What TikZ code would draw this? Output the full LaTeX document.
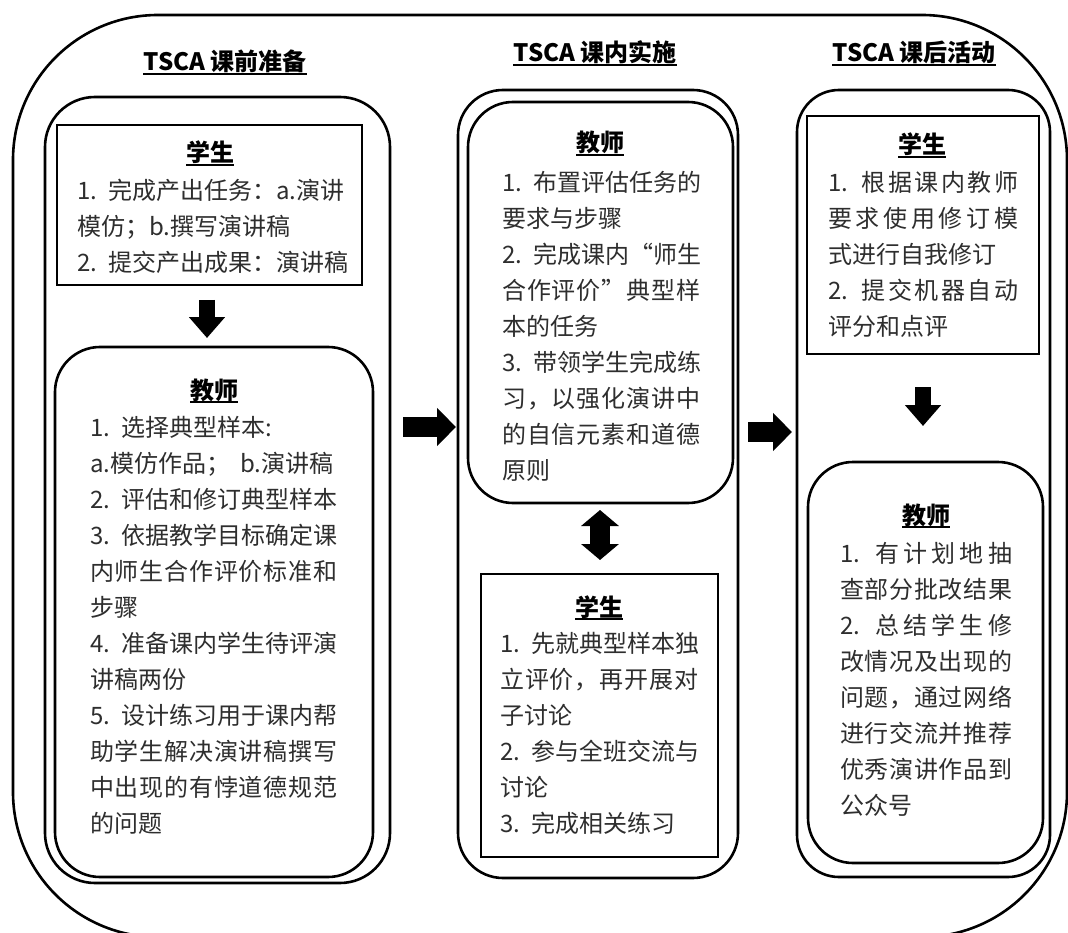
\documentclass[tikz,border=0pt]{standalone}
\usepackage{fontspec}
\setmainfont{Noto Sans CJK SC}
\usetikzlibrary{arrows.meta}
\makeatletter
\newcommand\jl[1]{\leavevmode\hbox to \linewidth{\@tfor\jt:=#1\do{\jt\hfil}\unskip}}
\makeatother
\newcommand\num[1]{#1.\hspace{11pt}}
\newcommand\fl{\rule{0pt}{25pt}}
\newcommand\ulx[1]{\setbox0\hbox{#1}\rlap{\rule[-4pt]{\wd0}{1.8pt}}\box0}
\tikzset{
  colbox/.style={draw, line width=2.6pt, rounded corners=#1, inner sep=0pt, outer sep=0pt},
  sqbox/.style={draw, line width=2.8pt, inner sep=0pt, outer sep=0pt},
  body/.style={anchor=north west, inner sep=0pt, text width=#1, align=left, text=black!82, font=\fontsize{24}{36}\selectfont},
  hdr/.style={anchor=base, inner sep=0pt, font=\fontsize{24}{30}\selectfont\bfseries},
  blk/.style={line width=20pt, -{Triangle[width=37pt,length=19pt]}},
  blkdown/.style={line width=16pt, -{Triangle[width=35pt,length=21pt]}},
  blkboth/.style={line width=20pt, {Triangle[width=37pt,length=16pt]}-{Triangle[width=37pt,length=16pt]}}
}
\begin{document}
\begin{tikzpicture}[x=1pt,y=-1pt]
\useasboundingbox (0,0) rectangle (1068,933);
\fill[white] (0,0) rectangle (1068,933);
\begin{scope}
\clip (0,0) rectangle (1068,933);
\node[colbox=145, minimum width=1054pt, minimum height=922pt] (frame) at (540,476) {};
\end{scope}
% columns
\node[colbox=50, minimum width=345pt, minimum height=786pt] (lcol) at (217.5,490) {};
\node[colbox=45, minimum width=280pt, minimum height=788pt] (mcol) at (598,484) {};
\node[colbox=42, minimum width=253pt, minimum height=787pt] (rcol) at (923.5,483.5) {};
% inner boxes
\node[sqbox, minimum width=305pt, minimum height=160pt] (lstu) at (209.5,205) {};
\node[colbox=45, minimum width=318pt, minimum height=530pt] (ltea) at (214,612) {};
\node[colbox=45, minimum width=265pt, minimum height=401pt] (mtea) at (600.5,302.5) {};
\node[sqbox, minimum width=237pt, minimum height=283pt] (mstu) at (599.5,715.5) {};
\node[sqbox, minimum width=232pt, minimum height=238pt] (rstu) at (923,235) {};
\node[colbox=45, minimum width=235pt, minimum height=401pt] (rtea) at (925.5,662.5) {};
% titles
\node[hdr] (t1) at (225,71) {\ulx{TSCA 课前准备}};
\node[hdr] (t2) at (595,62) {\ulx{TSCA 课内实施}};
\node[hdr] (t3) at (914,62) {\ulx{TSCA 课后活动}};
% headers
\node[hdr] (h1) at (210,162) {\ulx{学生}};
\node[hdr] (h2) at (214,399) {\ulx{教师}};
\node[hdr] (h3) at (600,152) {\ulx{教师}};
\node[hdr] (h4) at (599,616) {\ulx{学生}};
\node[hdr] (h5) at (922,154) {\ulx{学生}};
\node[hdr] (h6) at (926,524) {\ulx{教师}};
% bodies
\node[body=265pt] (b1) at (77,174) {\fl\jl{{\num{1}}完成产出任务：{a.}演讲}\\
模仿；b.撰写演讲稿\\
\jl{{\num{2}}提交产出成果：演讲稿}};
\node[body=247pt] (b2) at (90,411) {\fl\num{1}选择典型样本:\\
a.模仿作品；\hspace{10pt}b.演讲稿\\
\jl{{\num{2}}评估和修订典型样本}\\
\jl{{\num{3}}依据教学目标确定课}\\
\jl{内师生合作评价标准和}\\
步骤\\
\jl{{\num{4}}准备课内学生待评演}\\
讲稿两份\\
\jl{{\num{5}}设计练习用于课内帮}\\
\jl{助学生解决演讲稿撰写}\\
\jl{中出现的有悖道德规范}\\
的问题};
\node[body=198pt] (b3) at (502,166) {\fl\jl{{\num{1}}布置评估任务的}\\
要求与步骤\\
\jl{{\num{2}}完成课内“师生}\\
\jl{合作评价”典型样}\\
本的任务\\
\jl{{\num{3}}带领学生完成练}\\
\jl{习，以强化演讲中}\\
\jl{的自信元素和道德}\\
原则};
\node[body=198pt] (b4) at (500,627) {\fl\jl{{\num{1}}先就典型样本独}\\
\jl{立评价，再开展对}\\
子讨论\\
\jl{{\num{2}}参与全班交流与}\\
讨论\\
\num{3}完成相关练习};
\node[body=190pt] (b5) at (828,166) {\fl\jl{{\num{1}}根据课内教师}\\
\jl{要求使用修订模}\\
式进行自我修订\\
\jl{{\num{2}}提交机器自动}\\
评分和点评};
\node[body=172pt] (b6) at (840,537) {\fl\jl{{\num{1}}有计划地抽}\\
\jl{查部分批改结果}\\
\jl{{\num{2}}总结学生修}\\
\jl{改情况及出现的}\\
\jl{问题，通过网络}\\
\jl{进行交流并推荐}\\
\jl{优秀演讲作品到}\\
公众号};
% arrows
\coordinate (d1s) at (207,300);
\coordinate (d1e) at (207,338);
\draw[blkdown] (d1s) -- (d1e);
\coordinate (d2s) at (923,387);
\coordinate (d2e) at (923,426);
\draw[blkdown] (d2s) -- (d2e);
\coordinate (a1s) at (403,427);
\coordinate (a1e) at (456,427);
\draw[blk] (a1s) -- (a1e);
\coordinate (a2s) at (748,432);
\coordinate (a2e) at (792,432);
\draw[blk] (a2s) -- (a2e);
\coordinate (ds) at (600,510);
\coordinate (de) at (600,560);
\draw[blkboth] (ds) -- (de);
\end{tikzpicture}
\end{document}
